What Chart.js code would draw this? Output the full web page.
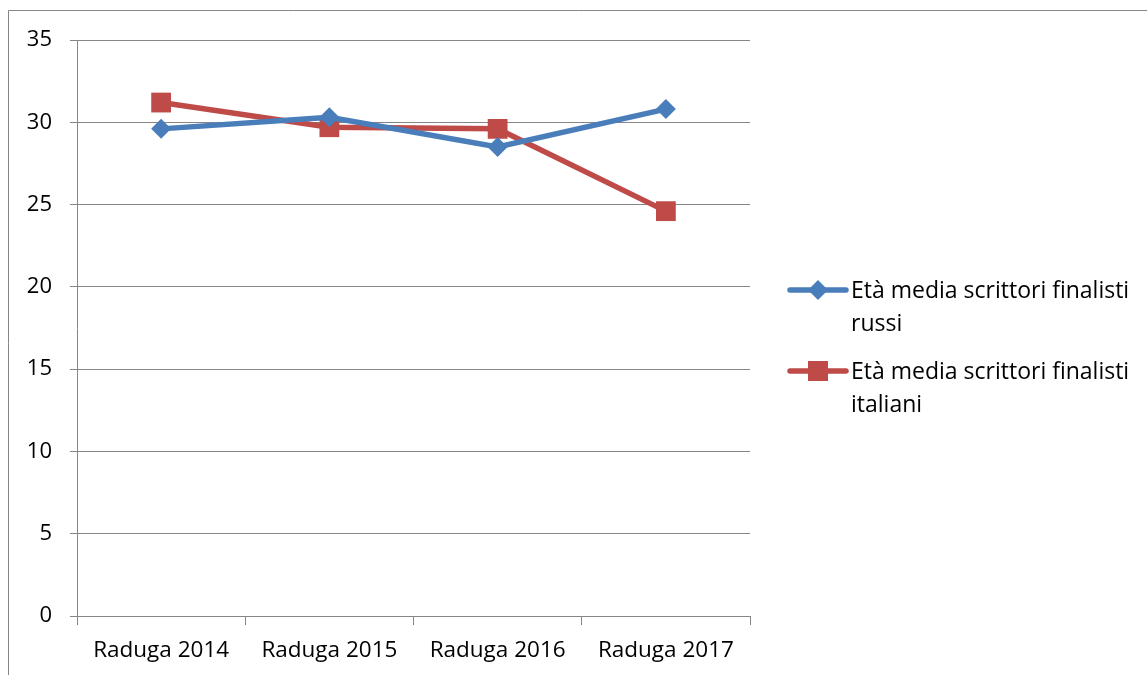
<!DOCTYPE html>
<html>
<head>
<meta charset="utf-8">
<script src="https://cdn.jsdelivr.net/npm/chart.js@4/dist/chart.umd.min.js"></script>
<style>
  html, body { margin: 0; padding: 0; background: #fff; }
  #wrap { width: 1147px; height: 675px; position: relative; }
</style>
</head>
<body>
<div id="wrap"><canvas id="chart" width="1147" height="675"></canvas></div>
<script>
const categories = ["Raduga 2014", "Raduga 2015", "Raduga 2016", "Raduga 2017"];
const russianAges = [29.6, 30.3, 28.5, 30.8];
const italianAges = [31.2, 29.7, 29.6, 24.6];
const seriesLabels = [
    ["Età media scrittori finalisti", "russi"],
    ["Età media scrittori finalisti", "italiani"]
];
const yTicks = [0, 5, 10, 15, 20, 25, 30, 35];

const FONT = "'Open Sans', Lato, sans-serif";
const GRID = "#868686";

// outer frame like the office chart border
const framePlugin = {
    id: "frame",
    beforeDraw(chart) {
        let ctx = chart.ctx;
        ctx.save();
        ctx.strokeStyle = GRID;
        ctx.lineWidth = 1;
        ctx.beginPath();
        ctx.moveTo(8.5, 700);
        ctx.lineTo(8.5, 10.5);
        ctx.lineTo(1200, 10.5);
        ctx.stroke();
        ctx.restore();
    }
};

// legend with wrapped text, drawn at the right side
const legendPlugin = {
    id: "wrapLegend",
    afterDraw(chart) {
        let ctx = chart.ctx;
        let x0 = chart.chartArea.right + 40;
        let tops = [290, 371];
        ctx.save();
        chart.data.datasets.forEach((ds, i) => {
            let y = tops[i];
            ctx.strokeStyle = ds.borderColor;
            ctx.lineWidth = 5.5;
            ctx.lineCap = "round";
            ctx.beginPath();
            ctx.moveTo(x0, y);
            ctx.lineTo(x0 + 56, y);
            ctx.stroke();
            ctx.fillStyle = ds.backgroundColor;
            let cx = x0 + 28;
            if (ds.pointStyle === "rectRot") {
                ctx.beginPath();
                ctx.moveTo(cx, y - 10);
                ctx.lineTo(cx + 10, y);
                ctx.lineTo(cx, y + 10);
                ctx.lineTo(cx - 10, y);
                ctx.closePath();
                ctx.fill();
            } else {
                ctx.fillRect(cx - 10, y - 10, 20, 20);
            }
            ctx.fillStyle = "#000";
            ctx.font = "23px " + FONT;
            ctx.textBaseline = "middle";
            ctx.textAlign = "left";
            seriesLabels[i].forEach((line, j) => {
                ctx.fillText(line, x0 + 61, y + 1 + j * 33);
            });
        });
        ctx.restore();
    }
};

new Chart(document.getElementById("chart"), {
    type: "line",
    data: {
        labels: categories,
        datasets: [
            {
                label: seriesLabels[0].join(" "),
                data: russianAges,
                borderColor: "#4A7EBB",
                backgroundColor: "#4A7EBB",
                borderWidth: 5.5,
                pointStyle: "rectRot",
                pointRadius: 10,
                pointHoverRadius: 10,
                pointBorderWidth: 0,
                tension: 0
            },
            {
                label: seriesLabels[1].join(" "),
                data: italianAges,
                borderColor: "#BE4B48",
                backgroundColor: "#BE4B48",
                borderWidth: 5.5,
                pointStyle: "rect",
                pointRadius: 14,
                pointHoverRadius: 14,
                pointBorderWidth: 0,
                tension: 0
            }
        ]
    },
    options: {
        responsive: false,
        animation: false,
        events: [],
        layout: { padding: { left: 0, top: 40, right: 397, bottom: 0 } },
        plugins: {
            legend: { display: false },
            tooltip: { enabled: false }
        },
        scales: {
            x: {
                offset: true,
                grid: {
                    offset: true,
                    drawOnChartArea: false,
                    drawTicks: true,
                    tickLength: 9,
                    color: GRID
                },
                border: { color: GRID, width: 1 },
                ticks: {
                    color: "#000",
                    font: { family: FONT, size: 22.5 },
                    padding: 12,
                    maxRotation: 0
                },
                afterFit(scale) { scale.height = 59; }
            },
            y: {
                min: 0,
                max: 35,
                afterBuildTicks(scale) {
                    scale.ticks = yTicks.map(v => ({ value: v }));
                },
                grid: {
                    color: GRID,
                    lineWidth: 1,
                    drawTicks: true,
                    tickLength: 7
                },
                border: { color: GRID, width: 1 },
                ticks: {
                    color: "#000",
                    font: { family: FONT, size: 22 },
                    padding: 18
                },
                afterFit(scale) { scale.width = 77; }
            }
        }
    },
    plugins: [framePlugin, legendPlugin]
});
</script>
</body>
</html>
